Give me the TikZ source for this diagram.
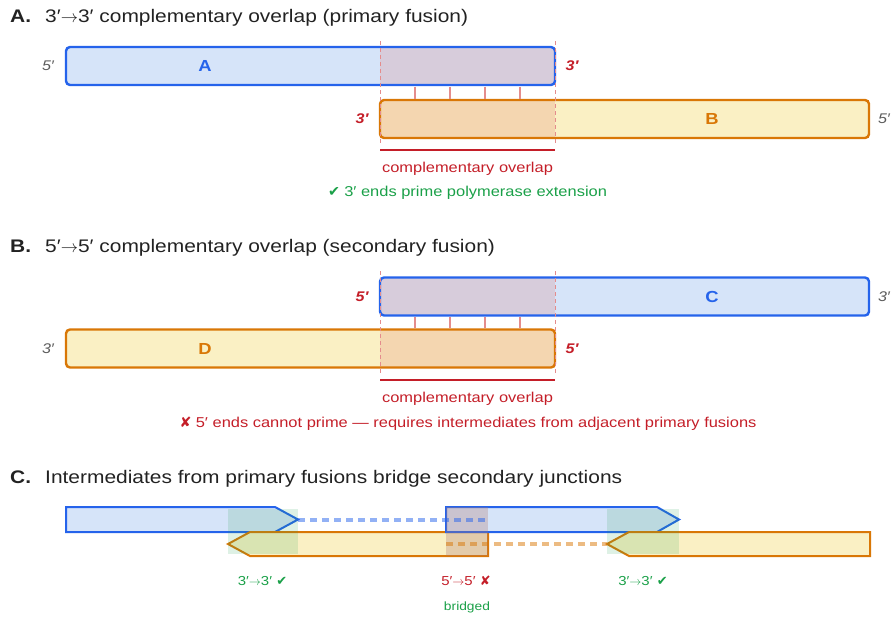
\documentclass[tikz,border=0pt]{standalone}
\usepackage{fontspec}
\setmainfont{Liberation Sans}[FakeStretch=1.15]
\newfontfamily\symf{DejaVu Sans}
\newcommand{\rarr}{\ensuremath{\rightarrow}}
\definecolor{bS}{RGB}{37,99,235}
\definecolor{bF}{RGB}{214,228,249}
\definecolor{oS}{RGB}{217,119,6}
\definecolor{oF}{RGB}{250,240,196}
\definecolor{rT}{RGB}{196,30,40}
\definecolor{gT}{RGB}{26,160,72}
\definecolor{gy}{RGB}{90,90,90}
\definecolor{tk}{RGB}{228,140,140}
\definecolor{tint}{RGB}{220,112,100}
\definecolor{mtint}{RGB}{175,120,110}
\definecolor{gbox}{RGB}{34,160,80}
\definecolor{ink}{RGB}{34,34,34}
\tikzset{
  ttl/.style={inner sep=0pt, text=ink, font=\fontsize{18.2}{22}\selectfont},
  bstrand/.style={draw=bS, fill=bF, line width=2.4pt, rounded corners=4pt},
  ostrand/.style={draw=oS, fill=oF, line width=2.4pt, rounded corners=4pt},
  tintfill/.style={fill=tint, fill opacity=0.2},
  guide/.style={draw=tk, line width=1pt, dash pattern=on 4pt off 3pt},
  tick/.style={draw=tk, line width=1.3pt},
  redbar/.style={draw=rT, line width=2pt},
  endg/.style={inner sep=0pt, text=gy, font=\fontsize{14}{16}\selectfont\itshape},
  endr/.style={inner sep=0pt, text=rT, font=\fontsize{14}{16}\selectfont\bfseries\itshape},
  lblb/.style={inner sep=0pt, text=bS, font=\fontsize{16}{18}\selectfont\bfseries},
  lblo/.style={inner sep=0pt, text=oS, font=\fontsize{16}{18}\selectfont\bfseries},
  captr/.style={inner sep=0pt, text=rT, font=\fontsize{14.3}{17}\selectfont},
  captg/.style={inner sep=0pt, text=gT, font=\fontsize{14.3}{17}\selectfont},
  cblue/.style={draw=bS, fill=bF, line width=2pt, line join=miter},
  corange/.style={draw=oS, fill=oF, line width=2pt, line join=miter},
  greenbox/.style={fill=gbox, fill opacity=0.15},
  midbox/.style={fill=mtint, fill opacity=0.3},
  bdash/.style={draw=bS, draw opacity=0.5, line width=4pt, dash pattern=on 7pt off 5pt},
  odash/.style={draw=oS, draw opacity=0.5, line width=4pt, dash pattern=on 7pt off 5pt},
  smallg/.style={inner sep=0pt, text=gT, font=\fontsize{13}{15}\selectfont},
  smallr/.style={inner sep=0pt, text=rT, font=\fontsize{13}{15}\selectfont},
  tinyg/.style={inner sep=0pt, text=gT, font=\fontsize{12}{14}\selectfont},
}
\begin{document}
\begin{tikzpicture}[x=1pt,y=-1pt]
\useasboundingbox (0,0) rectangle (891,618);

% ================= Section A =================
\node[ttl, anchor=base west] (tA) at (10,22.7) {\makebox[35pt][l]{\textbf{A.}}3′\rarr3′ complementary overlap (primary fusion)};

% strand A
\fill[bF, rounded corners=4pt] (66,47) rectangle (555,85);
\begin{scope}
  \clip[rounded corners=4pt] (66,47) rectangle (555,85);
  \fill[tintfill] (380,47) rectangle (555,85);
\end{scope}
\draw[bstrand, fill=none] (66,47) rectangle (555,85);
% strand B
\fill[oF, rounded corners=4pt] (380,100) rectangle (869,138);
\begin{scope}
  \clip[rounded corners=4pt] (380,100) rectangle (869,138);
  \fill[tintfill] (380,100) rectangle (555,138);
\end{scope}
\draw[ostrand, fill=none] (380,100) rectangle (869,138);
% base-pair ticks
\foreach \x in {415,450,485,520} \draw[tick] (\x,86.5) -- (\x,98.5);
% guides
\draw[guide] (380,41) -- (380,143);
\draw[guide] (555,41) -- (555,143);
\draw[redbar] (380,149.5) -- (555,149.5);

\node[endg] (a5) at (48,66) {5′};
\node[lblb] (aA) at (205,66) {A};
\node[endr] (a3) at (572,66) {3′};
\node[endr] (b3) at (362,119) {3′};
\node[lblo] (bB) at (712,119) {B};
\node[endg] (b5) at (884,119) {5′};
\node[captr, anchor=base] (ovA) at (467.5,172.3) {complementary overlap};
\node[captg, anchor=base] (okA) at (467.5,196) {{\symf ✔}\hspace{0.3em}3′ ends prime polymerase extension};

% ================= Section B =================
\node[ttl, anchor=base west] (tB) at (10,252.7) {\makebox[35pt][l]{\textbf{B.}}5′\rarr5′ complementary overlap (secondary fusion)};

% strand C
\fill[bF, rounded corners=4pt] (380,277.5) rectangle (869,315.5);
\begin{scope}
  \clip[rounded corners=4pt] (380,277.5) rectangle (869,315.5);
  \fill[tintfill] (380,277.5) rectangle (555,315.5);
\end{scope}
\draw[bstrand, fill=none] (380,277.5) rectangle (869,315.5);
% strand D
\fill[oF, rounded corners=4pt] (66,329.5) rectangle (555,367.5);
\begin{scope}
  \clip[rounded corners=4pt] (66,329.5) rectangle (555,367.5);
  \fill[tintfill] (380,329.5) rectangle (555,367.5);
\end{scope}
\draw[ostrand, fill=none] (66,329.5) rectangle (555,367.5);
\foreach \x in {415,450,485,520} \draw[tick] (\x,317) -- (\x,328);
\draw[guide] (380,271) -- (380,373);
\draw[guide] (555,271) -- (555,373);
\draw[redbar] (380,380) -- (555,380);

\node[endr] (c5) at (362,297) {5′};
\node[lblb] (cC) at (712,297) {C};
\node[endg] (c3) at (884,297) {3′};
\node[endg] (d3) at (48,349) {3′};
\node[lblo] (dD) at (205,349) {D};
\node[endr] (d5) at (572,349) {5′};
\node[captr, anchor=base] (ovB) at (467.5,402.5) {complementary overlap};
\node[captr, anchor=base] (noB) at (468,427) {{\symf ✘}\hspace{0.3em}5′ ends cannot prime — requires intermediates from adjacent primary fusions};

% ================= Section C =================
\node[ttl, anchor=base west] (tC) at (10,483) {\makebox[35pt][l]{\textbf{C.}}Intermediates from primary fusions bridge secondary junctions};

\draw[cblue] (66,507) -- (275,507) -- (298,519.5) -- (275,532) -- (66,532) -- cycle;
\draw[corange] (488,532) -- (250,532) -- (228,544) -- (250,556) -- (488,556) -- cycle;
\draw[cblue] (446,507) -- (657,507) -- (679,519.5) -- (657,532) -- (446,532) -- cycle;
\draw[corange] (870,532) -- (629,532) -- (607,544) -- (629,556) -- (870,556) -- cycle;

\fill[greenbox] (228,509) rectangle (298,554);
\fill[greenbox] (607,509) rectangle (679,554);
\fill[midbox] (446,507) rectangle (488,556);

\coordinate (tip1) at (298,519.5);
\coordinate (end1) at (488,519.5);
\coordinate (tip2) at (607,544);
\coordinate (beg2) at (446,544);
\draw[bdash] (tip1) -- (end1);
\draw[odash] (beg2) -- (tip2);

\node[smallg, anchor=base] (j1) at (262.5,585) {3′\rarr3′ {\symf ✔}};
\node[smallr, anchor=base] (j2) at (466,585) {5′\rarr5′ {\symf ✘}};
\node[tinyg, anchor=base] (j2b) at (467,610) {bridged};
\node[smallg, anchor=base] (j3) at (643,585) {3′\rarr3′ {\symf ✔}};
\end{tikzpicture}
\end{document}
